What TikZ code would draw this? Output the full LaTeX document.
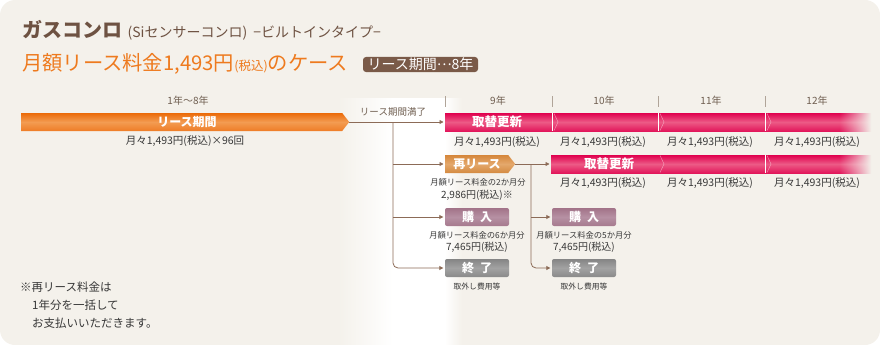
\documentclass[tikz,border=0pt]{standalone}
\usepackage{fontspec}
\setmainfont{Noto Sans CJK JP}
\usetikzlibrary{arrows.meta, shapes.symbols}
\newcommand{\jfs}[1]{\fontsize{#1}{#1}\selectfont}

\definecolor{bgc}{HTML}{F4F1EB}
\definecolor{titlebrown}{HTML}{6E5242}
\definecolor{caseorange}{HTML}{EE7A1E}
\definecolor{periodbrown}{HTML}{7A5A48}
\definecolor{yeargray}{HTML}{6F5E50}
\definecolor{tickgray}{HTML}{B0A498}
\definecolor{linebrown}{HTML}{8C6B57}
\definecolor{textdark}{HTML}{383838}
\definecolor{leasetop}{HTML}{EB6A08}
\definecolor{leasemid}{HTML}{F39C52}
\definecolor{leasebot}{HTML}{EE7C26}
\definecolor{pinktop}{HTML}{E0004E}
\definecolor{pinkmid}{HTML}{EC5A86}
\definecolor{pinkbot}{HTML}{E2175B}
\definecolor{tantop}{HTML}{D5863A}
\definecolor{tanmid}{HTML}{E4A86C}
\definecolor{tanbot}{HTML}{D48A40}
\definecolor{mauvetop}{HTML}{A27388}
\definecolor{mauvemid}{HTML}{B690A3}
\definecolor{mauvebot}{HTML}{A67A8E}
\definecolor{graytop}{HTML}{858585}
\definecolor{graymid}{HTML}{A2A2A2}
\definecolor{graybot}{HTML}{8A8A8A}

\pgfdeclarehorizontalshading{whiteband}{100bp}{color(0bp)=(bgc); color(25bp)=(bgc);
  color(47bp)=(white); color(68bp)=(white); color(75bp)=(bgc); color(100bp)=(bgc)}

\tikzset{
  yearlabel/.style={text=yeargray, inner sep=0pt, font=\jfs{10}},
  yeartick/.style={tickgray, line width=0.6pt},
  smalltext/.style={text=textdark, inner sep=0pt, font=\jfs{10.5}},
  tinytext/.style={text=textdark, inner sep=0pt, font=\jfs{8.3}},
  conn/.style={linebrown, line width=0.8pt, shorten >=1.5pt},
  pinkfill/.style={top color=pinktop, bottom color=pinkbot, middle color=pinkmid},
  leasebar/.style={signal, signal to=east, signal pointer angle=104, inner sep=0pt,
    minimum width=328pt, minimum height=18pt, top color=leasetop, bottom color=leasebot,
    middle color=leasemid, anchor=west},
  renewbar/.style={rectangle, inner sep=0pt, minimum height=18pt, anchor=west, pinkfill},
  barlabel/.style={text=white, inner sep=0pt, font=\jfs{12.5}\bfseries},
  divider/.style={white, line width=0.6pt},
  chevron/.style={white, opacity=0.45, line width=0.5pt},
  releasebox/.style={signal, signal to=east, signal pointer angle=104, inner sep=0pt,
    minimum width=70pt, minimum height=18pt, top color=tantop, bottom color=tanbot,
    middle color=tanmid, anchor=west},
  choicebox/.style={rectangle, rounded corners=2pt, inner sep=0pt, minimum width=64pt,
    minimum height=18pt, text=white, font=\jfs{12}\bfseries},
  buybox/.style={choicebox, top color=mauvetop, bottom color=mauvebot, middle color=mauvemid},
  endbox/.style={choicebox, top color=graytop, bottom color=graybot, middle color=graymid},
  periodbox/.style={rectangle, fill=periodbrown, rounded corners=3pt, inner sep=0pt,
    minimum width=115pt, minimum height=15pt, text=white, font=\jfs{14}}
}

\begin{document}
\begin{tikzpicture}[x=1pt, y=-1pt, >={Triangle[length=4pt, width=4pt]}]
  \fill[bgc, rounded corners=15pt] (0,0) rectangle (880,345);
  \useasboundingbox (0,0) rectangle (880,345);
  \shade[shading=whiteband] (338,98) rectangle (462,345);

  % heading
  \node[anchor=west, text=titlebrown, inner sep=0pt] (title) at (22,30) {\jfs{20}\bfseries ガスコンロ};
  \node[anchor=base west, text=titlebrown, inner sep=0pt] (subtitle) at ([xshift=5pt]title.base east)
    {\jfs{14}(Siセンサーコンロ)\hspace{6pt}−ビルトインタイプ−};
  \node[anchor=west, text=caseorange, inner sep=0pt] (case) at (22,64)
    {\jfs{20.3}月額リース料金1,493円{\jfs{12.5}(税込)}のケース};
  \node[periodbox] (period) at (420.5,64.5) {リース期間\raisebox{0.3em}{…}8年};

  % years
  \node[yearlabel] (yearlease) at (188,101) {1年〜8年};
  \foreach \x/\yr in {498/9, 604/10, 711/11, 817/12}
    \node[yearlabel] (year\yr) at (\x,101) {\yr 年};
  \foreach \x in {445,552,658,765}
    \draw[yeartick] (\x,96) -- (\x,107);

  % lease period
  \node[leasebar] (lease) at (21,122) {};
  \node[barlabel, font=\jfs{12}\bfseries] (leaselabel) at (187,122) {リース期間};
  \node[smalltext] (leasefee) at (185,141) {月々1,493円(税込)×96回};

  % renewal, first row
  \node[renewbar, minimum width=394pt] (renew1) at (445,122) {};
  \foreach \i in {0,...,31}
    \shade[pinkfill, opacity=1-\i/32] (839+\i,113) rectangle (840.2+\i,131);
  \node[barlabel] (renew1label) at (497,122) {取替更新};
  \foreach \x in {552,658,765} {
    \draw[divider] (\x,113) -- (\x,131);
    \draw[chevron] (\x+2,113.5) -- (\x+6,122) -- (\x+2,130.5);
  }
  \foreach \x/\n in {497/a, 603/b, 710/c, 817/d}
    \node[smalltext] (fee1\n) at (\x,142) {月々1,493円(税込)};

  % re-lease
  \node[releasebox] (release) at (445,164) {};
  \node[barlabel, font=\jfs{12}\bfseries] (releaselabel) at (477,164) {再リース};
  \node[tinytext] (releasenote) at (478,182) {月額リース料金の2か月分};
  \node[smalltext, font=\jfs{10}] (releasefee) at (477,195) {2,986円(税込)※};

  % renewal, second row
  \node[renewbar, minimum width=288pt] (renew2) at (551,164) {};
  \foreach \i in {0,...,31}
    \shade[pinkfill, opacity=1-\i/32] (839+\i,155) rectangle (840.2+\i,173);
  \node[barlabel] (renew2label) at (609,164) {取替更新};
  \draw[chevron] (660,155.5) -- (664,164) -- (660,172.5);
  \draw[divider] (765,155) -- (765,173);
  \draw[chevron] (767,155.5) -- (771,164) -- (767,172.5);
  \foreach \x/\n in {603/b, 710/c, 817/d}
    \node[smalltext] (fee2\n) at (\x,183) {月々1,493円(税込)};

  % purchase and end
  \node[buybox] (buy1) at (477,217) {購\hspace{0.5em}入};
  \node[tinytext] (buy1note) at (477,235) {月額リース料金の6か月分};
  \node[smalltext, font=\jfs{10}] (buy1fee) at (477,247) {7,465円(税込)};
  \node[buybox] (buy2) at (584,217) {購\hspace{0.5em}入};
  \node[tinytext] (buy2note) at (584,235) {月額リース料金の5か月分};
  \node[smalltext, font=\jfs{10}] (buy2fee) at (584,247) {7,465円(税込)};
  \node[endbox] (end1) at (477,268) {終\hspace{0.5em}了};
  \node[tinytext, font=\jfs{7.8}] (end1note) at (477,287) {取外し費用等};
  \node[endbox] (end2) at (584,268) {終\hspace{0.5em}了};
  \node[tinytext, font=\jfs{7.8}] (end2note) at (584,287) {取外し費用等};

  % connectors
  \coordinate (expiry) at (393,122);
  \draw[conn, ->] (lease.east) -- (renew1.west);
  \node[smalltext, text=yeargray, font=\jfs{9.5}] (expirylabel) at (393,112) {リース期間満了};
  \draw[conn, ->, rounded corners=5pt] (expiry) |- (end1.west);
  \draw[conn, ->] (expiry |- release.west) -- (release.west);
  \draw[conn, ->] (expiry |- buy1.west) -- (buy1.west);
  \coordinate (releaseend) at (531,164);
  \draw[conn, ->] (release.east) -- (renew2.west);
  \draw[conn, ->, rounded corners=5pt] (releaseend) |- (end2.west);
  \draw[conn, ->] (releaseend |- buy2.west) -- (buy2.west);

  % note
  \node[anchor=north west, inner sep=0pt, align=left, text=textdark,
    font=\fontsize{11.5}{18}\selectfont] (note) at (20,282)
    {※再リース料金は\\\hspace*{12pt}1年分を一括して\\\hspace*{12pt}お支払いいただきます。};
\end{tikzpicture}
\end{document}
